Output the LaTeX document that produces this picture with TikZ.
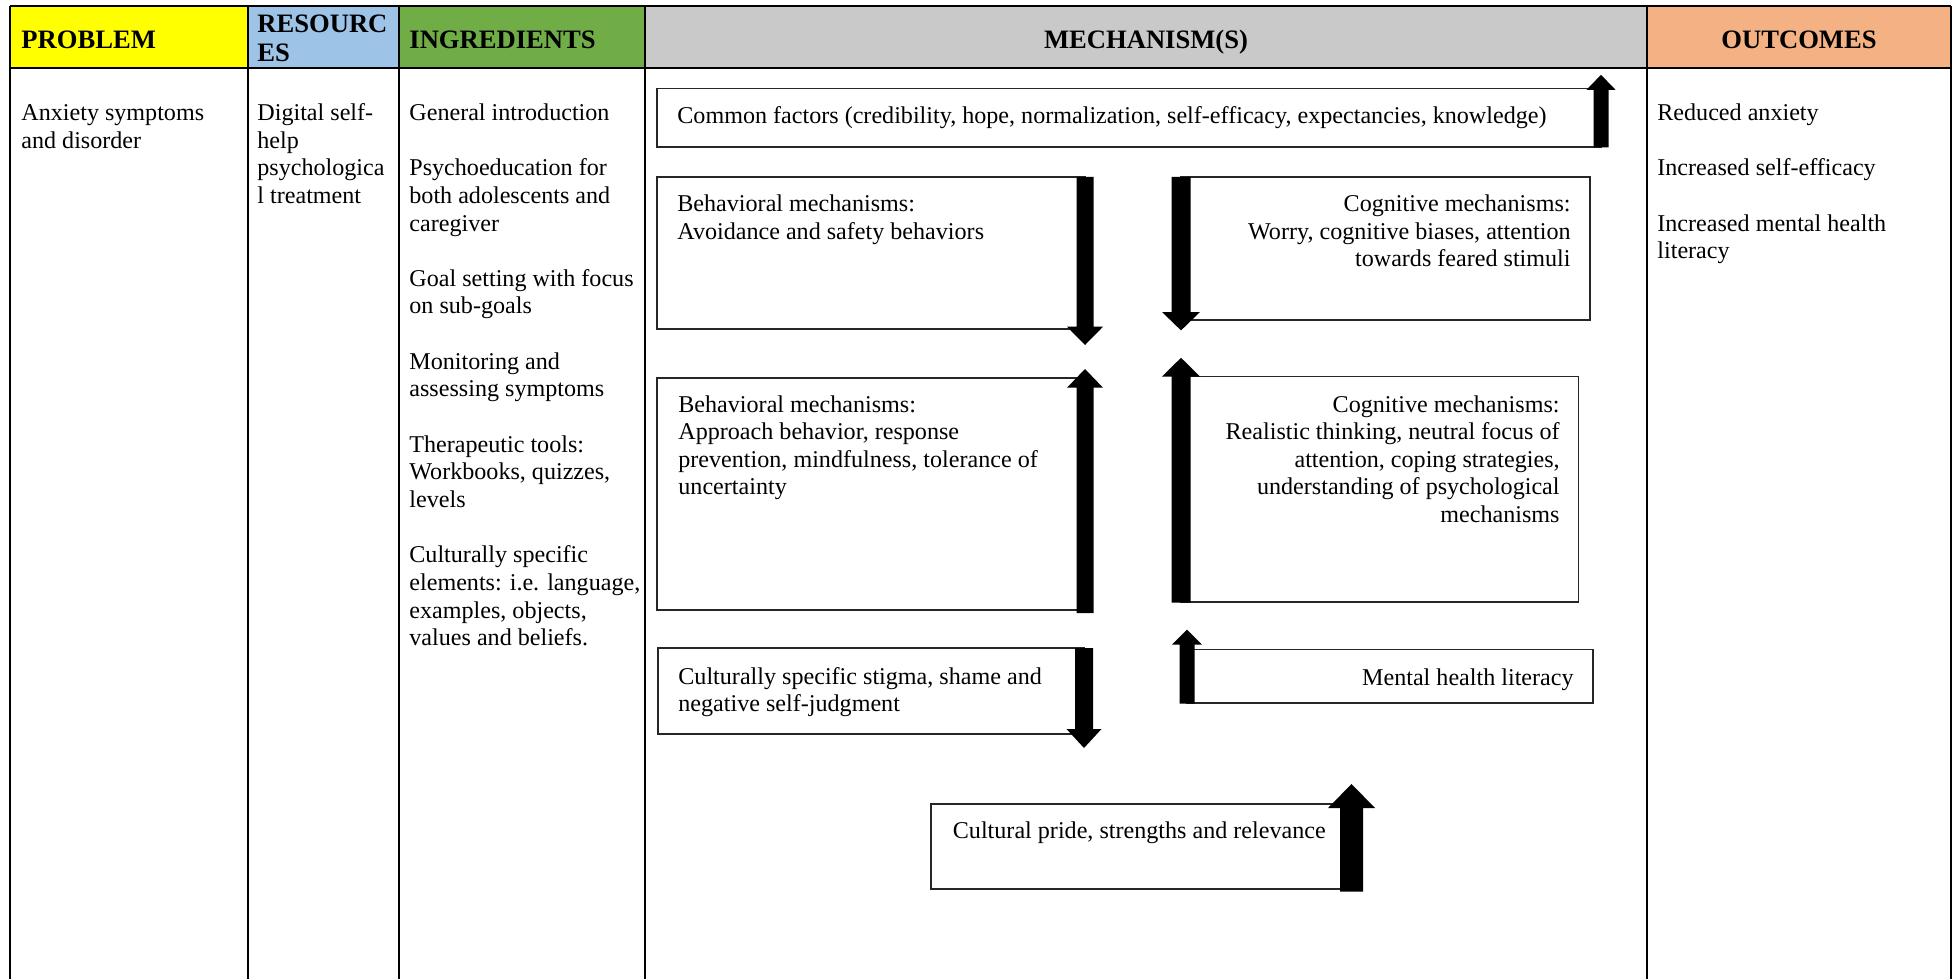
\documentclass[tikz,border=0pt]{standalone}
\usepackage{fontspec}
\setmainfont{Liberation Serif}
\usetikzlibrary{fit}
\definecolor{hyellow}{HTML}{FFFF00}
\definecolor{hblue}{HTML}{9DC3E6}
\definecolor{hgreen}{HTML}{70AD47}
\definecolor{hgray}{HTML}{C9C9C9}
\definecolor{horange}{HTML}{F4B183}
% block arrows: xc, tip, head base, bottom, shaft half, head half
\newcommand{\blkup}[6]{\fill[black] (#1-#5,#4) -- (#1-#5,#3) -- (#1-#6,#3) -- (#1,#2) -- (#1+#6,#3) -- (#1+#5,#3) -- (#1+#5,#4) -- cycle;}
% xc, top, head base, tip, shaft half, head half
\newcommand{\blkdown}[6]{\fill[black] (#1-#5,#2) -- (#1+#5,#2) -- (#1+#5,#3) -- (#1+#6,#3) -- (#1,#4) -- (#1-#6,#3) -- (#1-#5,#3) -- cycle;}
\newcommand{\lft}[1]{\parbox[t]{400pt}{\raggedright #1}}
\newcommand{\rgt}[1]{\parbox[t]{400pt}{\raggedleft #1}}
\begin{document}
\begin{tikzpicture}[x=0.5pt,y=-0.5pt,
  body/.style={inner sep=0, font=\fontsize{12.05}{13.82}\selectfont},
  head/.style={inner sep=0, font=\fontsize{13.3}{14.5}\selectfont\bfseries},
  mbox/.style={draw=black!85, line width=0.6pt, inner sep=0, rectangle},
  grid/.style={line width=1.25pt, black}]
\useasboundingbox (0,0) rectangle (1955,979);
\fill[white] (0,0) rectangle (1955,979);
% header fills
\fill[hyellow] (10,6) rectangle (248,68);
\fill[hblue] (248,6) rectangle (399,68);
\fill[hgreen] (399,6) rectangle (645,68);
\fill[hgray] (645,6) rectangle (1647,68);
\fill[horange] (1647,6) rectangle (1951,68);
% table lines
\draw[grid] (10,6) -- (1951,6);
\draw[grid] (10,68) -- (1951,68);
\foreach \x in {10,248,399,645,1647,1951} \draw[grid] (\x,6) -- (\x,979);
% header texts
\node[head, anchor=base west] (hprob) at (21,48.5) {PROBLEM};
\node[head, anchor=base west] (hres) at (257,33) {\lft{RESOURC\\ES}};
\node[head, anchor=base west] (hing) at (409,48.5) {INGREDIENTS};
\node[head, anchor=base] (hmech) at (1146,48.5) {MECHANISM(S)};
\node[head, anchor=base] (hout) at (1799,48.5) {OUTCOMES};
% column texts
\node[body, anchor=base west] (prob) at (21,120.5) {\lft{Anxiety symptoms\\and disorder}};
\node[body, anchor=base west] (res) at (257,120.5) {\lft{Digital self-\\help\\psychologica\\l treatment}};
\node[body, anchor=base west] (ing) at (409,120.5) {\lft{General introduction\\[13.82pt]
Psychoeducation for\\both adolescents and\\caregiver\\[13.82pt]
Goal setting with focus\\on sub-goals\\[13.82pt]
Monitoring and\\assessing symptoms\\[13.82pt]
Therapeutic tools:\\Workbooks, quizzes,\\levels\\[13.82pt]
Culturally specific\\elements: i.e. language,\\examples, objects,\\values and beliefs.}};
\node[body, anchor=base west] (out) at (1657,120.5) {\lft{Reduced anxiety\\[13.82pt]
Increased self-efficacy\\[13.82pt]
Increased mental health\\literacy}};
% mechanism boxes
\node[mbox, fit={(657,88.5) (1601,147)}] (cf) {};
\node[body, anchor=base west] (cft) at (677,124) {Common factors (credibility, hope, normalization, self-efficacy, expectancies, knowledge)};
\blkup{1601}{74.8}{89.8}{147.5}{7.5}{14.5}

\node[mbox, fit={(657,177) (1085,329)}] (b1) {};
\node[body, anchor=base west] (b1t) at (677,211.5) {\lft{Behavioral mechanisms:\\Avoidance and safety behaviors}};
\blkdown{1085}{177}{326.7}{345}{8.5}{18}

\node[mbox, fit={(1181,177) (1590,320)}] (c1) {};
\node[body, anchor=base east] (c1t) at (1571,211.5) {\rgt{Cognitive mechanisms:\\Worry, cognitive biases, attention\\towards feared stimuli}};
\blkdown{1181}{177}{312}{330.4}{9.5}{19}

\node[mbox, fit={(657,378) (1085,610)}] (b2) {};
\node[body, anchor=base west] (b2t) at (678,412) {\lft{Behavioral mechanisms:\\Approach behavior, response\\prevention, mindfulness, tolerance of\\uncertainty}};
\blkup{1085}{369}{387.7}{613}{8.5}{18}

\node[mbox, fit={(1181,376.5) (1578.5,602)}] (c2) {};
\node[body, anchor=base east] (c2t) at (1560,412) {\rgt{Cognitive mechanisms:\\Realistic thinking, neutral focus of\\attention, coping strategies,\\understanding of psychological\\mechanisms}};
\blkup{1181}{357.8}{376.5}{602.5}{9.5}{19}

\node[mbox, fit={(658,648) (1084,734)}] (st) {};
\node[body, anchor=base west] (stt) at (678,684) {\lft{Culturally specific stigma, shame and\\negative self-judgment}};
\blkdown{1084}{648}{729}{748}{9}{17.5}

\node[mbox, fit={(1187,649.6) (1593,703)}] (mhl) {};
\node[body, anchor=base east] (mhlt) at (1574,685.3) {Mental health literacy};
\blkup{1187}{629.6}{644.6}{703.5}{7.5}{15}

\node[mbox, fit={(931,804) (1351.5,889)}] (pr) {};
\node[body, anchor=base west] (prt) at (952.5,838.5) {Cultural pride, strengths and relevance};
\blkup{1351.5}{784}{808}{891.5}{11.5}{23.5}
\end{tikzpicture}
\end{document}
